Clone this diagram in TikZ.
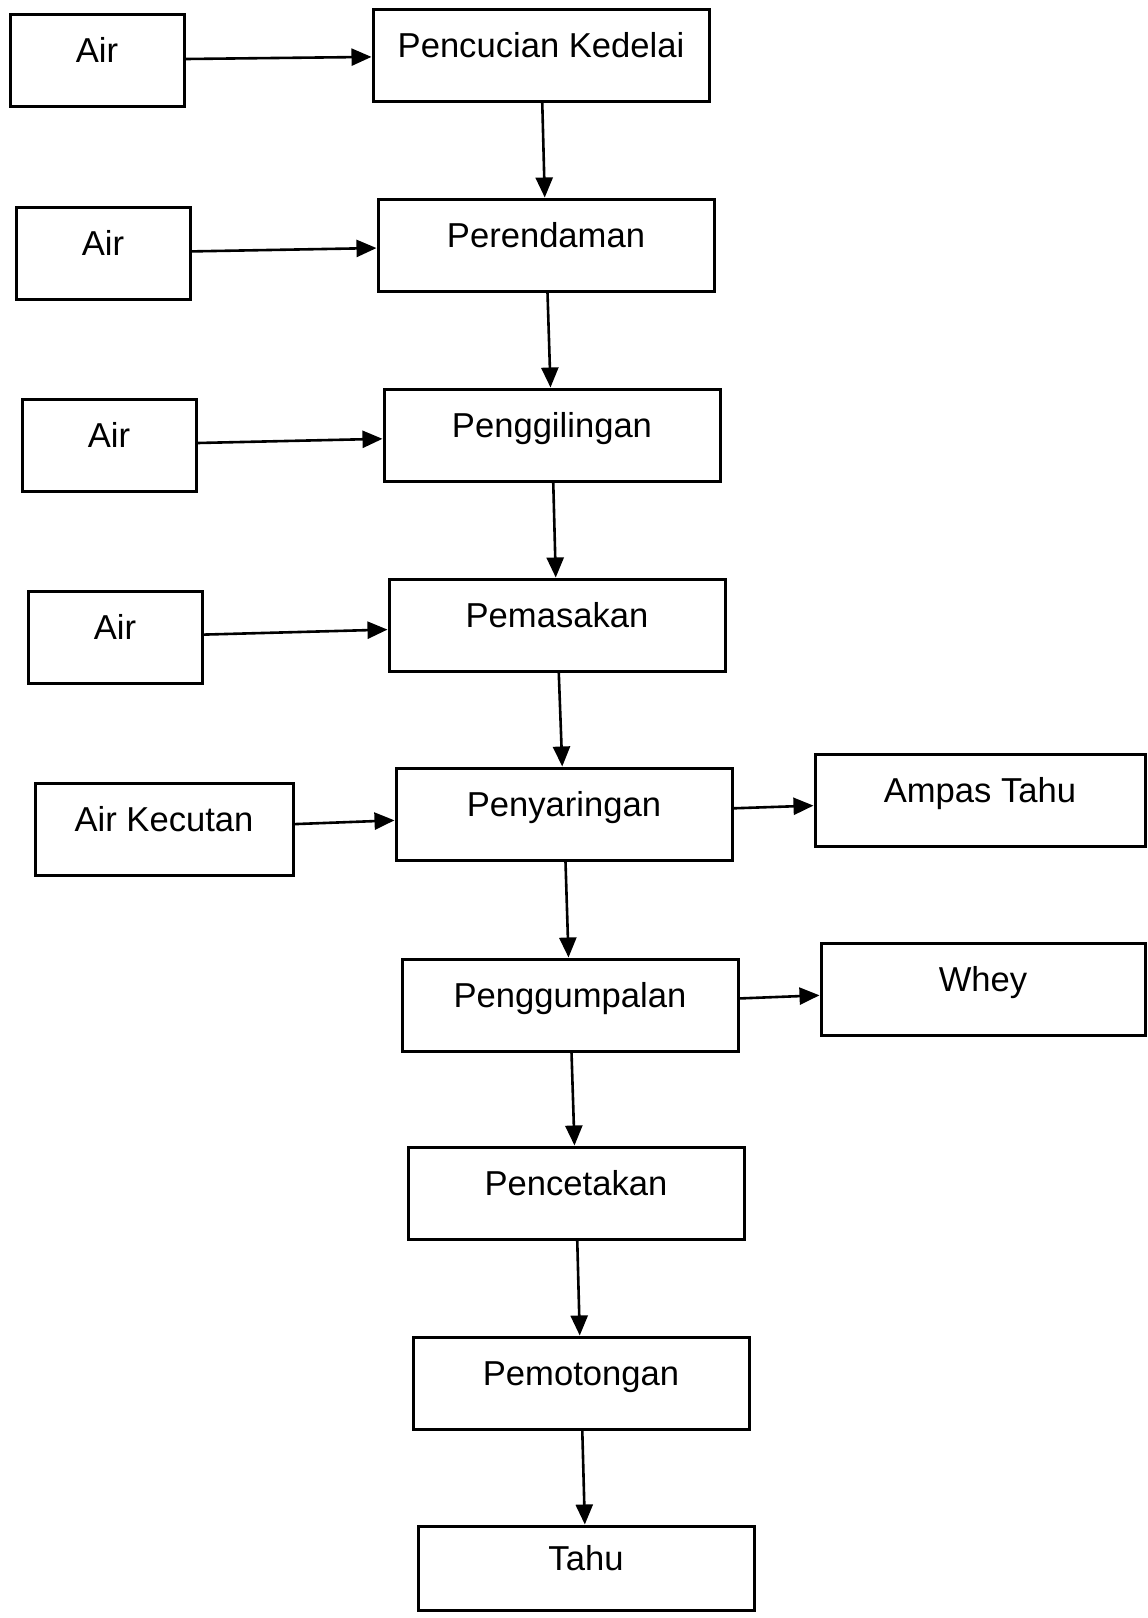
\documentclass[tikz,border=0pt]{standalone}
\usepackage{fontspec}
\setmainfont{Liberation Sans}
\usepackage{tikz}
\usetikzlibrary{arrows.meta}

\begin{document}
\begin{tikzpicture}[
    x=0.5pt, y=-0.5pt,
    every node/.style={draw, line width=1.5pt, minimum height=46pt, align=center, inner sep=0pt,
        text height=12pt, text depth=10pt, font=\fontsize{17.3}{20}\selectfont},
    stage/.style={minimum width=168pt},
    water/.style={minimum width=87pt},
    arrow/.style={-{Triangle[length=10pt, width=8.5pt]}, line width=1.3pt}
]
    \useasboundingbox (0,0) rectangle (1147,1618);

    % main line
    \node[stage] (wash) at (541,55) {Pencucian Kedelai};
    \node[stage] (soak) at (546,245) {Perendaman};
    \node[stage] (grind) at (552,435) {Penggilingan};
    \node[stage] (cook) at (557,625) {Pemasakan};
    \node[stage] (filter) at (564,814) {Penyaringan};
    \node[stage] (curd) at (570,1005) {Penggumpalan};
    \node[stage] (mould) at (576,1193) {Pencetakan};
    \node[stage] (cut) at (581,1383) {Pemotongan};
    \node[stage, minimum height=42pt] (tofu) at (586,1568) {Tahu};

    % inputs
    \node[water] (air1) at (97,60) {Air};
    \node[water] (air2) at (103,253) {Air};
    \node[water] (air3) at (109,445) {Air};
    \node[water] (air4) at (115,637) {Air};
    \node[minimum width=129pt] (sour) at (164,829) {Air Kecutan};

    % outputs
    \node[minimum width=165pt] (pulp) at (980,800) {Ampas Tahu};
    \node[minimum width=162pt] (whey) at (983,989) {Whey};

    \draw[arrow] (wash) -- (soak);
    \draw[arrow] (soak) -- (grind);
    \draw[arrow] (grind) -- (cook);
    \draw[arrow] (cook) -- (filter);
    \draw[arrow] (filter) -- (curd);
    \draw[arrow] (curd) -- (mould);
    \draw[arrow] (mould) -- (cut);
    \draw[arrow] (cut) -- (tofu);

    \draw[arrow] (air1) -- (wash);
    \draw[arrow] (air2) -- (soak);
    \draw[arrow] (air3) -- (grind);
    \draw[arrow] (air4) -- (cook);
    \draw[arrow] (sour) -- (filter);

    \draw[arrow] (filter) -- (pulp);
    \draw[arrow] (curd) -- (whey);
\end{tikzpicture}
\end{document}
